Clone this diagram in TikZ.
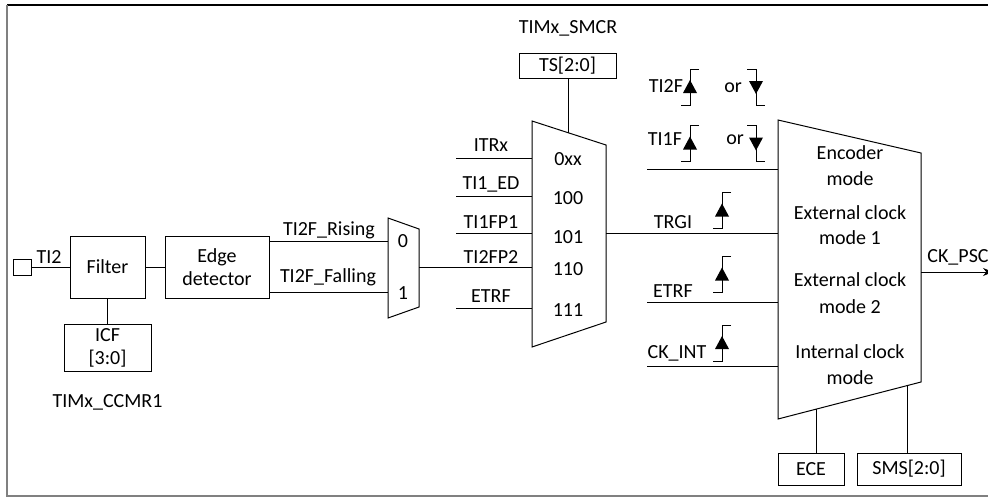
\documentclass[tikz,border=0pt]{standalone}
\usepackage{fontspec}
\setmainfont{Carlito}
\usetikzlibrary{arrows.meta}
\begin{document}
\begin{tikzpicture}[x=0.5pt,y=-0.5pt,font=\fontsize{10}{11.5}\selectfont,
  box/.style={draw, line width=0.5pt, inner sep=0pt, align=center},
  lbl/.style={inner sep=0pt, align=center},
  wire/.style={line width=0.5pt},
  rise/.pic={\draw[wire] (9,-18) -- (0,-18) -- (0,18) -- (-9,18);
             \fill (0,-7) -- (-7,6) -- (7,6) -- cycle;},
  fall/.pic={\draw[wire] (-9,-18) -- (0,-18) -- (0,18) -- (9,18);
             \fill (0,7) -- (-7,-6) -- (7,-6) -- cycle;}]
\useasboundingbox (0,0) rectangle (988,498);
% frame
\draw[line width=0.6pt] (990,5) -- (7,5);
\draw[line width=0.8pt, gray] (7,5) -- (7,496) -- (990,496);

% boxes
\node[box, minimum width=9pt, minimum height=8pt] (port) at (22,267) {};
\node[box, minimum width=37.5pt, minimum height=31pt] (filter) at (107.5,267) {Filter};
\node[box, minimum width=52pt, minimum height=31pt] (edge) at (217,267) {Edge\\detector};
\node[box, minimum width=43.5pt, minimum height=23.5pt] (icf) at (107.5,347.5) {ICF\\{}[3:0]};
\node[box, minimum width=48.5pt, minimum height=12.5pt] (ts) at (567.5,65.5) {TS[2:0]};
\node[box, minimum width=33pt, minimum height=16pt] (ece) at (811,469) {ECE};
\node[box, minimum width=52pt, minimum height=16pt] (sms) at (909,469) {SMS[2:0]};

% labels
\node[lbl] (lti2) at (49,257) {TI2};
\node[lbl] (lccmr) at (107.5,402) {TIMx\_CCMR1};
\node[lbl] (lsmcr) at (568,28) {TIMx\_SMCR};
\node[lbl] (lrise) at (329,230) {TI2F\_Rising};
\node[lbl] (lfall) at (328,277) {TI2F\_Falling};
\node[lbl] (l0) at (403,241) {0};
\node[lbl] (l1) at (403,293) {1};

% mux 1
\draw[wire] (388,218) -- (419,229) -- (419,307) -- (388,318) -- cycle;
\coordinate (m1i0) at (388,241);
\coordinate (m1i1) at (388,292);
\coordinate (m1o) at (419,267);

% mux 2
\draw[wire] (532,121) -- (606,145) -- (606,322) -- (532,347) -- cycle;
\coordinate (m2top) at (568,132.7);
\coordinate (m2i1) at (532,158);
\coordinate (m2i2) at (532,196);
\coordinate (m2i3) at (532,233);
\coordinate (m2i4) at (532,267);
\coordinate (m2i5) at (532,308);
\coordinate (m2o) at (606,233);
\coordinate (s1) at (456,158);
\coordinate (s2) at (456,196);
\coordinate (s3) at (456,233);
\coordinate (s5) at (456,308);
\node[lbl] (litr) at (491,145) {ITRx};
\node[lbl] (led) at (491,184) {TI1\_ED};
\node[lbl] (lfp1) at (491,222) {TI1FP1};
\node[lbl] (lfp2) at (491,257) {TI2FP2};
\node[lbl] (letr) at (491,296) {ETRF};
\node[lbl] (n0) at (568,159) {0xx};
\node[lbl] (n1) at (568,198) {100};
\node[lbl] (n2) at (568,237) {101};
\node[lbl] (n3) at (568,269) {110};
\node[lbl] (n4) at (568,310) {111};

% mux 3
\draw[wire] (778,120) -- (921,153) -- (921,382) -- (778,419) -- cycle;
\coordinate (m3i1) at (778,169);
\coordinate (m3i2) at (778,233);
\coordinate (m3i3) at (778,302);
\coordinate (m3i4) at (778,366);
\coordinate (m3o) at (921,272);
\coordinate (m3b1) at (816,409.1);
\coordinate (m3b2) at (907,385.4);
\coordinate (t1) at (647,169);
\coordinate (t3) at (647,302);
\coordinate (t4) at (647,366);
\coordinate (ckout) at (993,272);
\node[lbl] at (850,153) {Encoder};
\node[lbl] at (850,179) {mode};
\node[lbl] at (850,213) {External clock};
\node[lbl] at (850,238) {mode 1};
\node[lbl] at (850,280) {External clock};
\node[lbl] at (850,307) {mode 2};
\node[lbl] at (850,352) {Internal clock};
\node[lbl] at (850,378) {mode};

\node[lbl] (lti2f) at (666,86) {TI2F};
\node[lbl] (lor1) at (733,88) {or};
\node[lbl] (lti1f) at (665,139) {TI1F};
\node[lbl] (lor2) at (735,140) {or};
\node[lbl] (ltrgi) at (673,222) {TRGI};
\node[lbl] (letr2) at (673,291) {ETRF};
\node[lbl] (lckint) at (677,353) {CK\_INT};
\node[lbl, anchor=west] (lckpsc) at (927,257) {CK\_PSC};

\pic at (690,87) {rise};
\pic at (756,87) {fall};
\pic at (690,143.5) {rise};
\pic at (756,143.5) {fall};
\pic at (722,210.5) {rise};
\pic at (722,274.5) {rise};
\pic at (722,343) {rise};

% connectors
\draw[wire] (port.east) -- (filter.west);
\draw[wire] (filter.east) -- (edge.west);
\draw[wire] (filter.south) -- (icf.north);
\draw[wire] (edge.east |- m1i0) -- (m1i0);
\draw[wire] (edge.east |- m1i1) -- (m1i1);
\draw[wire] (m1o) -- (m2i4);
\draw[wire] (s1) -- (m2i1);
\draw[wire] (s2) -- (m2i2);
\draw[wire] (s3) -- (m2i3);
\draw[wire] (s5) -- (m2i5);
\draw[wire] (ts.south -| m2top) -- (m2top);
\draw[wire] (m2o) -- (m3i2);
\draw[wire] (t1) -- (m3i1);
\draw[wire] (t3) -- (m3i3);
\draw[wire] (t4) -- (m3i4);
\draw[wire, -{Stealth[length=5pt,width=4pt]}] (m3o) -- (ckout);
\draw[wire] (m3b1) -- (m3b1 |- ece.north);
\draw[wire] (m3b2) -- (m3b2 |- sms.north);
\end{tikzpicture}
\end{document}
